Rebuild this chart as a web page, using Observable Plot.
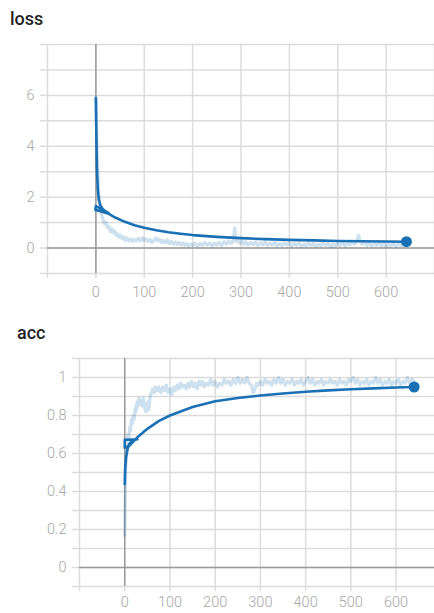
<!DOCTYPE html>
<html>
<head>
<meta charset="utf-8">
<script src="https://cdn.jsdelivr.net/npm/d3@7"></script>
<script src="https://cdn.jsdelivr.net/npm/@observablehq/plot@0.6"></script>
<style>
  html, body { margin: 0; padding: 0; background: #fff; }
  #wrap { position: relative; width: 434px; height: 613px; overflow: hidden; }
  .title { position: absolute; font-family: Roboto, "Liberation Sans", sans-serif; font-weight: 500; font-size: 18px; color: #222; line-height: 1; }
  .panel { position: absolute; left: 0; }
</style>
</head>
<body>
<div id="wrap">
  <div class="title" style="left:10px; top:10px;">loss</div>
  <div class="panel" id="p1" style="top:0px;"></div>
  <div class="title" style="left:17px; top:324px;">acc</div>
  <div class="panel" id="p2" style="top:310px;"></div>
</div>
<script>
// ---- data ----
const lossSmooth = [
  [0,5.9],[1,4.5],[2,3.2],[4,2.3],[6,1.9],[9,1.7],[13,1.56],[19,1.45],[26,1.38],
  [0,1.65],[-1,1.5],[10,1.45],[26,1.35],[40,1.2],[60,1.03],[80,0.9],[100,0.8],
  [125,0.7],[150,0.62],[175,0.56],[200,0.51],[250,0.44],[300,0.39],[350,0.35],
  [400,0.32],[450,0.3],[500,0.28],[550,0.27],[600,0.26],[642,0.25]
];
const lossRaw = [
  [0,5.9],[2,4.2],[4,3.0],[6,2.2],[8,1.7],[10,1.45],[12,1.3],[15,1.1],[18,0.95],[21,1.0],
  [24,0.8],[27,0.85],[30,0.65],[33,0.75],[36,0.6],[39,0.68],[42,0.5],[45,0.55],[48,0.42],[51,0.5],
  [54,0.38],[57,0.45],[60,0.3],[64,0.4],[68,0.28],[72,0.36],[76,0.25],[80,0.34],[84,0.28],[88,0.38],
  [92,0.27],[96,0.4],[100,0.3],[104,0.36],[108,0.25],[112,0.33],[116,0.22],[120,0.3],[124,0.4],[128,0.28],
  [132,0.35],[136,0.22],[140,0.3],[144,0.2],[148,0.32],[152,0.18],[156,0.26],[160,0.15],[164,0.24],[168,0.14],
  [172,0.22],[176,0.12],[180,0.2],[184,0.1],[188,0.18],[192,0.08],[196,0.16],[200,0.1],[205,0.2],[210,0.08],
  [215,0.18],[220,0.1],[225,0.22],[230,0.12],[235,0.2],[240,0.08],[245,0.18],[250,0.12],[255,0.22],[260,0.1],
  [265,0.25],[270,0.15],[275,0.28],[280,0.18],[284,0.3],[287,0.78],[290,0.25],[294,0.3],[298,0.18],[302,0.28],
  [306,0.15],[310,0.25],[315,0.12],[320,0.22],[325,0.14],[330,0.24],[335,0.1],[340,0.2],[345,0.12],[350,0.25],
  [355,0.1],[360,0.2],[365,0.12],[370,0.22],[375,0.08],[380,0.18],[385,0.1],[390,0.2],[395,0.12],[400,0.22],
  [405,0.08],[410,0.18],[415,0.1],[420,0.2],[425,0.06],[430,0.16],[435,0.08],[440,0.2],[445,0.1],[450,0.18],
  [455,0.06],[460,0.15],[465,0.08],[470,0.2],[475,0.1],[480,0.18],[485,0.05],[490,0.15],[495,0.08],[500,0.2],
  [505,0.1],[510,0.22],[515,0.08],[520,0.18],[525,0.12],[530,0.25],[535,0.15],[540,0.3],[543,0.5],[546,0.28],
  [550,0.15],[555,0.25],[560,0.1],[565,0.2],[570,0.08],[575,0.18],[580,0.1],[585,0.22],[590,0.08],[595,0.18],
  [600,0.05],[605,0.15],[610,0.08],[615,0.2],[620,0.06],[625,0.16],[630,0.1],[635,0.18],[640,0.12]
];
const accSmooth = [
  [0,0.44],[1,0.52],[3,0.58],[6,0.62],[10,0.65],[18,0.67],[28,0.675],
  [0,0.672],[0,0.63],[10,0.64],[20,0.665],[30,0.69],[50,0.73],[75,0.77],[100,0.80],
  [150,0.845],[200,0.875],[250,0.892],[300,0.905],[350,0.916],[400,0.925],[450,0.932],
  [500,0.938],[550,0.943],[600,0.947],[640,0.95]
];
const accRaw = [
  [0,0.17],[1,0.35],[2,0.5],[3,0.6],[5,0.66],[7,0.7],[9,0.68],[11,0.74],[13,0.72],[15,0.78],
  [17,0.76],[19,0.8],[21,0.78],[23,0.84],[25,0.82],[27,0.87],[29,0.85],[31,0.89],[33,0.86],[35,0.88],
  [38,0.85],[41,0.89],[44,0.84],[47,0.82],[50,0.87],[53,0.83],[56,0.9],[59,0.92],[62,0.94],[65,0.92],
  [68,0.95],[72,0.93],[76,0.95],[80,0.92],[84,0.95],[88,0.93],[92,0.96],[96,0.92],[100,0.94],[104,0.91],
  [108,0.95],[112,0.93],[116,0.96],[120,0.94],[124,0.97],[128,0.95],[132,0.96],[136,0.94],[140,0.97],[144,0.95],
  [148,0.98],[152,0.95],[156,0.97],[160,0.94],[164,0.98],[168,0.96],[172,0.98],[176,0.95],[180,0.97],[185,0.96],
  [190,0.99],[195,0.96],[200,0.98],[205,0.95],[210,0.97],[215,0.96],[220,0.99],[225,0.97],[230,0.98],[235,0.96],
  [240,0.99],[245,0.97],[250,1.0],[255,0.97],[260,0.99],[265,0.97],[270,1.0],[275,0.97],[280,0.96],[284,0.92],
  [288,0.94],[292,0.97],[296,0.96],[300,0.98],[305,0.96],[310,0.99],[315,0.97],[320,0.98],[325,0.96],[330,0.99],
  [335,0.97],[340,1.0],[345,0.97],[350,0.99],[355,0.96],[360,0.98],[365,0.97],[370,0.99],[375,0.96],[380,0.98],
  [385,0.97],[390,0.99],[395,0.96],[400,0.98],[405,1.0],[410,0.97],[415,0.99],[420,0.96],[425,0.98],[430,0.97],
  [435,0.99],[440,0.96],[445,0.98],[450,0.97],[455,0.99],[460,0.97],[465,0.98],[470,0.96],[475,0.99],[480,0.97],
  [485,0.98],[490,0.96],[495,0.99],[500,0.98],[505,1.0],[510,0.97],[515,0.99],[520,0.96],[525,0.98],[530,0.97],
  [535,0.99],[540,0.96],[545,0.98],[550,0.97],[555,1.0],[560,0.97],[565,0.99],[570,0.96],[575,0.98],[580,0.97],
  [585,0.99],[590,0.96],[595,0.98],[600,0.97],[605,0.99],[610,0.96],[615,0.98],[620,0.97],[625,1.0],[630,0.97],
  [635,0.99],[640,0.98]
];
const xGridTicks = [-100,0,100,200,300,400,500,600,700];
const xLabelTicks = [0,100,200,300,400,500,600];
const lossGridTicks = [-1,0,1,2,3,4,5,6,7,8];
const lossLabelTicks = [0,2,4,6];
const accGridTicks = [-0.1,0,0.1,0.2,0.3,0.4,0.5,0.6,0.7,0.8,0.9,1,1.1];
const accLabelTicks = [0,0.2,0.4,0.6,0.8,1];

// ---- style ----
const LINE = "#1a70b5";
const GRID = "#dcdcdc";
const ZERO = "#9a9a9a";
const LABEL = "#a6a6a6";

const toObj = arr => arr.map(([step, value]) => ({step, value}));

function panel({height, marginTop, marginBottom, marginLeft, xDomain, yDomain, yGrid, yLabels, xPad, smooth, raw}) {
  const s = toObj(smooth), r = toObj(raw);
  return Plot.plot({
    width: 434, height, marginTop, marginBottom, marginLeft, marginRight: 0,
    x: {domain: xDomain, label: null},
    y: {domain: yDomain, label: null},
    style: {fontFamily: "Roboto, 'Liberation Sans', sans-serif", fontSize: "14.5px", fontWeight: 300, background: "transparent"},
    marks: [
      Plot.gridX(xGridTicks, {stroke: GRID, strokeOpacity: 1, strokeWidth: 1.5}),
      Plot.gridY(yGrid, {stroke: GRID, strokeOpacity: 1, strokeWidth: 1.5}),
      Plot.axisX(xGridTicks, {tickSize: 5, stroke: GRID, strokeWidth: 1.5, tickFormat: () => "", label: null}),
      Plot.axisY(yGrid, {tickSize: 7, stroke: GRID, strokeWidth: 1.5, tickFormat: () => "", label: null}),
      Plot.axisX(xLabelTicks, {tickSize: 0, tickPadding: xPad, fill: LABEL, label: null}),
      Plot.axisY(yLabels, {tickSize: 0, tickPadding: 13, fill: LABEL, tickFormat: d => String(d), label: null}),
      Plot.ruleX([0], {stroke: ZERO, strokeWidth: 1.5}),
      Plot.ruleY([0], {stroke: ZERO, strokeWidth: 1.5}),
      Plot.line(r, {x: "step", y: "value", stroke: LINE, strokeOpacity: 0.22, strokeWidth: 3.2}),
      Plot.line(s, {x: "step", y: "value", stroke: LINE, strokeWidth: 2.6}),
      Plot.dot(s.slice(-1), {x: "step", y: "value", r: 5.5, fill: LINE, stroke: null})
    ]
  });
}

document.getElementById("p1").append(panel({
  height: 310, marginTop: 44, marginBottom: 37, marginLeft: 47,
  xDomain: [-100, 700], yDomain: [-1, 8], yGrid: lossGridTicks, yLabels: lossLabelTicks,
  xPad: 13, smooth: lossSmooth, raw: lossRaw
}));
document.getElementById("p2").append(panel({
  height: 303, marginTop: 48, marginBottom: 27, marginLeft: 79,
  xDomain: [-100, 685], yDomain: [-0.1, 1.1], yGrid: accGridTicks, yLabels: accLabelTicks,
  xPad: 10, smooth: accSmooth, raw: accRaw
}));
</script>
</body>
</html>
